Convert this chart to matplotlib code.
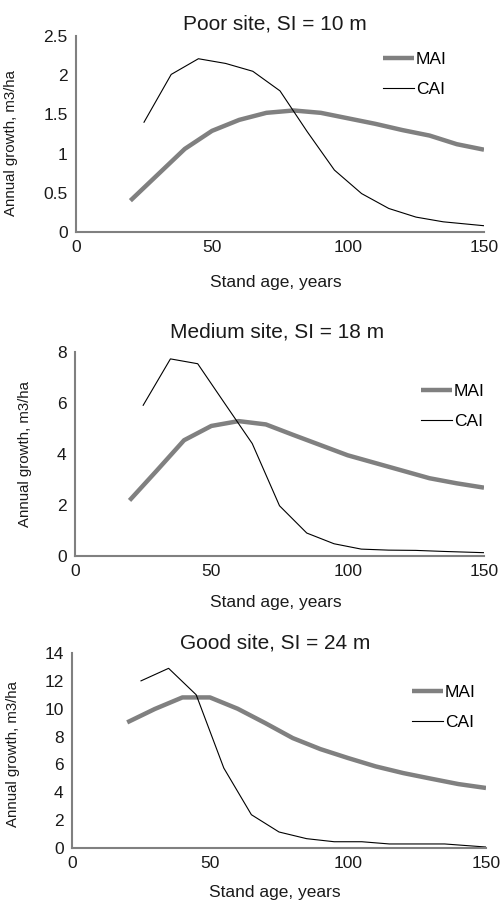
import matplotlib
matplotlib.use("Agg")
import matplotlib.pyplot as plt

plt.rcParams['font.family'] = ['Liberation Sans', 'DejaVu Sans']

# ---- data ----
mai_age = [20, 30, 40, 50, 60, 70, 80, 90, 100, 110, 120, 130, 140, 150]
cai_age = [25, 35, 45, 55, 65, 75, 85, 95, 105, 115, 125, 135, 150]

poor_mai = [0.40, 0.73, 1.06, 1.29, 1.43, 1.52, 1.55, 1.52, 1.45, 1.38, 1.30, 1.23, 1.12, 1.05]
poor_cai = [1.40, 2.01, 2.21, 2.15, 2.05, 1.80, 1.28, 0.79, 0.49, 0.30, 0.19, 0.13, 0.08]

medium_mai = [2.18, 3.35, 4.54, 5.10, 5.29, 5.16, 4.75, 4.35, 3.95, 3.65, 3.35, 3.05, 2.85, 2.68]
medium_cai = [5.91, 7.73, 7.54, 5.97, 4.41, 1.97, 0.90, 0.48, 0.27, 0.23, 0.22, 0.18, 0.13]

good_mai = [9.02, 9.98, 10.81, 10.81, 10.00, 8.97, 7.89, 7.10, 6.46, 5.86, 5.38, 4.98, 4.59, 4.31]
good_cai = [12.0, 12.9, 11.0, 5.74, 2.39, 1.15, 0.67, 0.45, 0.45, 0.29, 0.29, 0.29, 0.07]

titles = ["Poor site, SI = 10 m", "Medium site, SI = 18 m", "Good site, SI = 24 m"]
yticks_list = [[0, 0.5, 1, 1.5, 2, 2.5], [0, 2, 4, 6, 8], [0, 2, 4, 6, 8, 10, 12, 14]]
ytick_labels = [["0", "0.5", "1", "1.5", "2", "2.5"], ["0", "2", "4", "6", "8"],
                ["0", "2", "4", "6", "8", "10", "12", "14"]]
xticks = [0, 50, 100, 150]
xlabel = "Stand age, years"
ylabel = "Annual growth, m3/ha"

fig = plt.figure(figsize=(5.0, 9.02), dpi=100)

W, H = 500, 902
# (left px, right px, top px, bottom px)
boxes = [(76, 484, 36, 232), (75, 484, 352, 556), (72, 486, 653, 848)]
ylab_px = [18, 32, 20]
ylab_cy = [0.455, 0.5, 0.48]
title_px = [24, 332, 643]
title_cx = [275, 277, 275]
xlab_px = [282, 602, 893]
leg_px = [(383, 52), (421, 384), (412, 685)]

datasets = [(poor_mai, poor_cai), (medium_mai, medium_cai), (good_mai, good_cai)]

for i in range(3):
    l, r, t, b = boxes[i]
    ax = fig.add_axes([l / W, 1 - b / H, (r - l) / W, (b - t) / H])
    mai, cai = datasets[i]
    ax.plot(mai_age, mai, color='#808080', lw=3.2, label='MAI', solid_capstyle='butt')
    ax.plot(cai_age, cai, color='black', lw=0.8, label='CAI')
    ax.set_xlim(0, 150)
    yt = yticks_list[i]
    ax.set_ylim(yt[0], yt[-1])
    ax.set_yticks(yt)
    ax.set_yticklabels(ytick_labels[i])
    ax.set_xticks(xticks)
    ax.tick_params(length=0, labelsize=12.5, colors='#1a1a1a', pad=6)
    for s in ['top', 'right']:
        ax.spines[s].set_visible(False)
    for s in ['left', 'bottom']:
        ax.spines[s].set_color('#808080')
        ax.spines[s].set_linewidth(1.5)
    hpx = b - t
    wpx = r - l
    ax.text((title_cx[i] - l) / wpx, (b - title_px[i]) / hpx, titles[i],
            transform=ax.transAxes, ha='center', va='center', fontsize=15, color='#1a1a1a')
    ax.text(0.5 - 4 / wpx, (b - xlab_px[i]) / hpx, xlabel, transform=ax.transAxes,
            ha='center', va='center', fontsize=12.5, color='#1a1a1a')
    ax.set_ylabel(ylabel, fontsize=10.8, color='#1a1a1a')
    ax.yaxis.set_label_coords((ylab_px[i] - l) / wpx, ylab_cy[i])
    lx, ly = leg_px[i]
    ax.legend(loc='upper left', bbox_to_anchor=((lx - l) / wpx, (b - ly) / hpx),
              frameon=False, fontsize=12.5, handlelength=1.8, handletextpad=0.1,
              labelspacing=0.85, borderpad=0, borderaxespad=0)

fig.savefig("out.png", dpi=100, facecolor='white')
